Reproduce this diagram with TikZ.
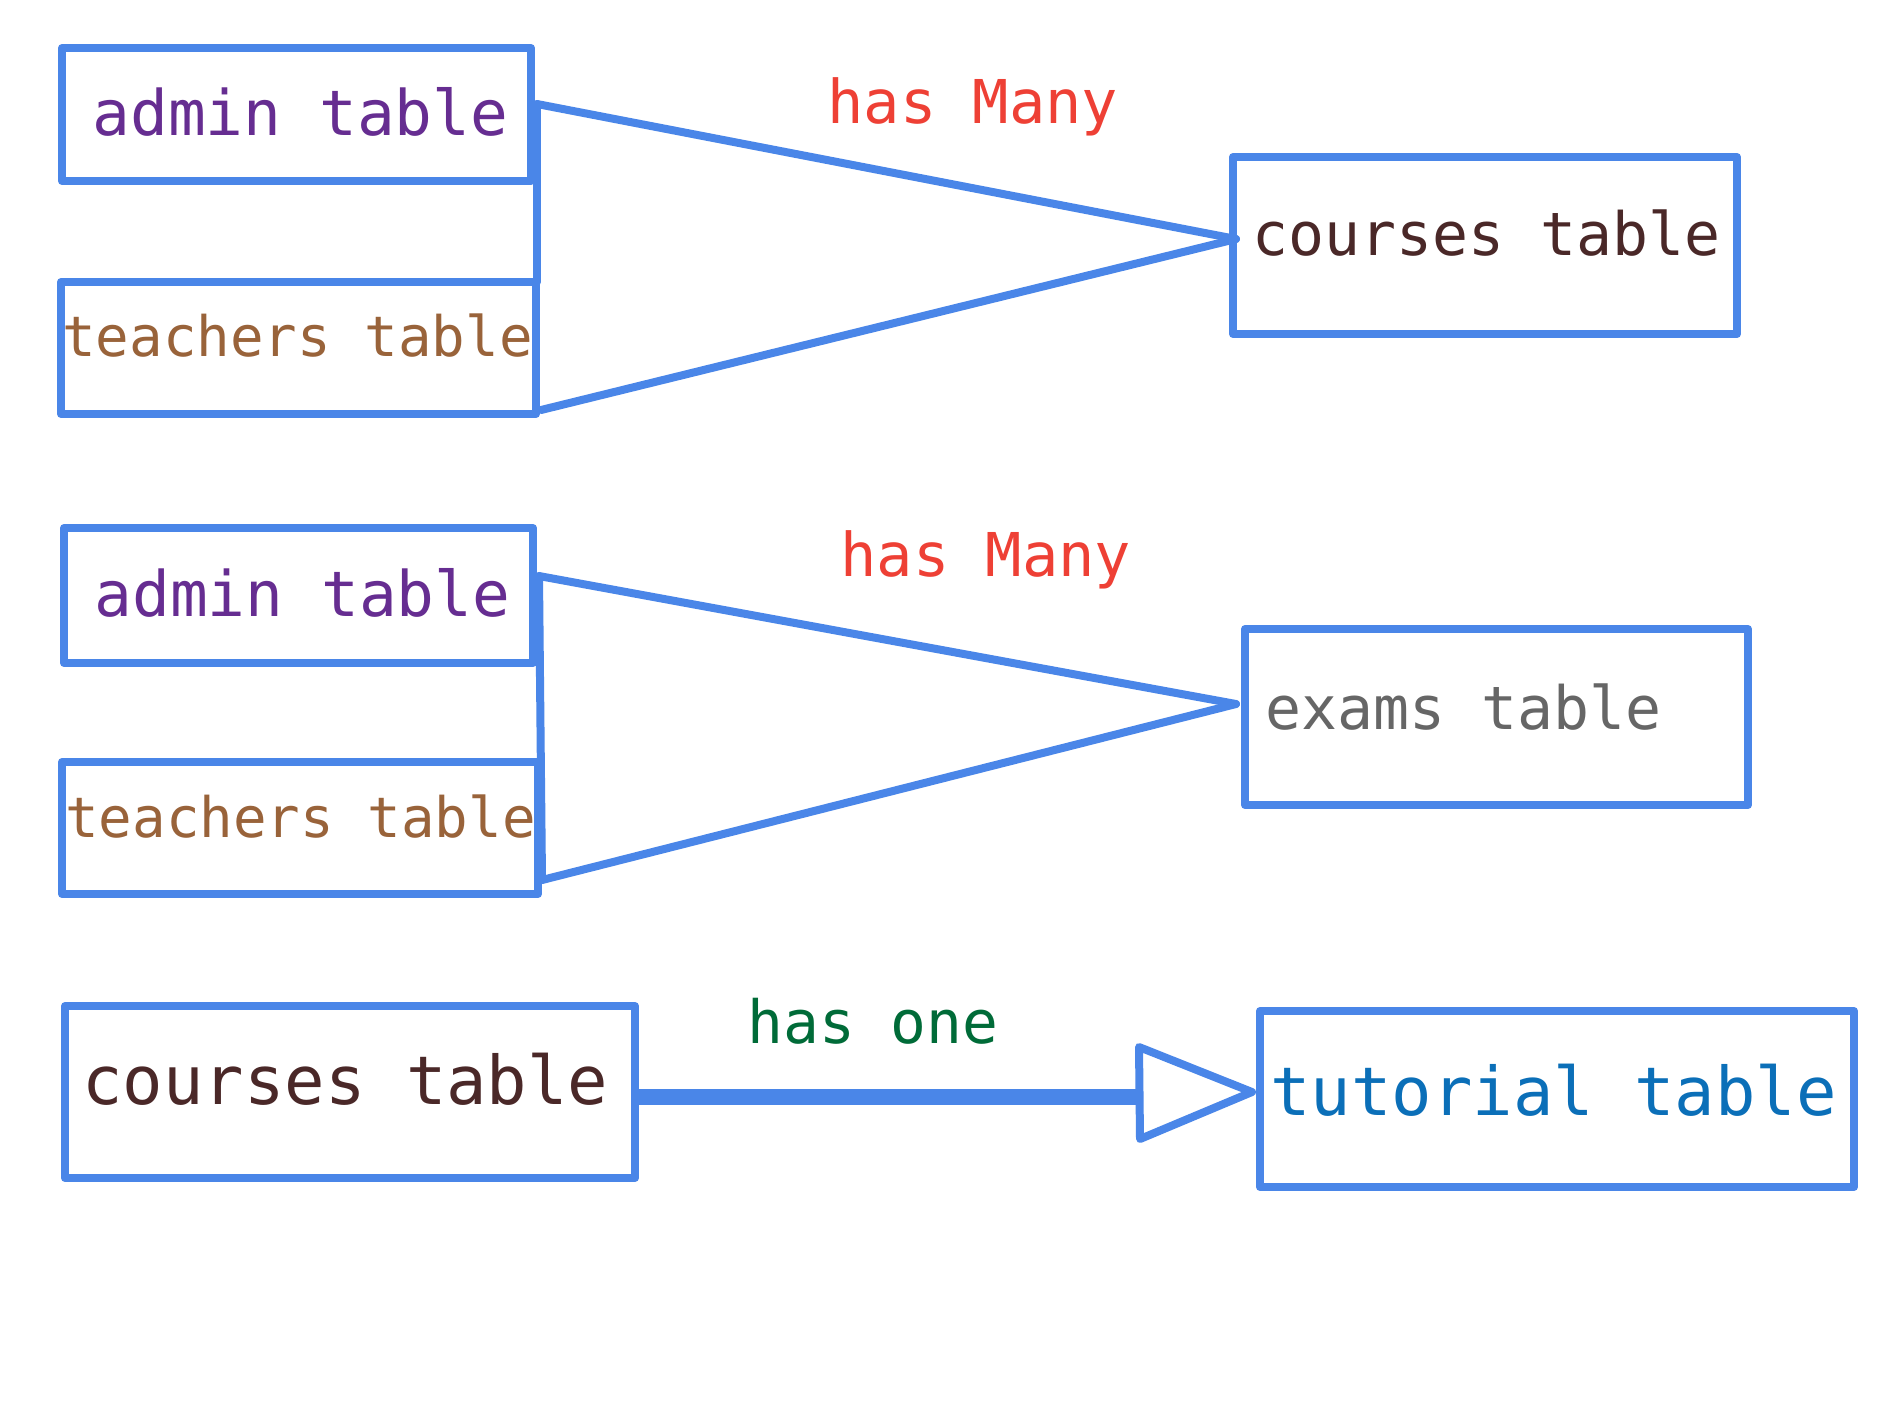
\documentclass[tikz,border=0pt]{standalone}
\usepackage{fontspec}
\newfontfamily\monofam{DejaVu Sans Mono}
\definecolor{lineblue}{RGB}{74,134,232}
\definecolor{adminc}{RGB}{102,45,145}
\definecolor{teachc}{RGB}{153,99,58}
\definecolor{coursec}{RGB}{74,40,40}
\definecolor{tutc}{RGB}{11,111,184}
\definecolor{greenc}{RGB}{0,107,56}
\definecolor{grayc}{RGB}{102,102,102}
\definecolor{redc}{RGB}{238,64,53}
\begin{document}
\begin{tikzpicture}[x=0.5pt,y=-0.5pt,
  box/.style={draw=lineblue,line width=4pt,line join=round,rectangle,inner sep=0pt,fill=none},
  conn/.style={draw=lineblue,line width=4pt,line cap=round,line join=round},
  shaft/.style={draw=lineblue,line width=8pt},
  lbl/.style={anchor=base west,inner sep=0pt,font=\monofam}]
\useasboundingbox[fill=white] (0,0) rectangle (1894,1421);
% boxes
\node[box,minimum width=234.5pt,minimum height=66.5pt] (a1) at (296.5,114.5) {};
\node[box,minimum width=237.5pt,minimum height=66pt] (t1) at (298.5,348) {};
\node[box,minimum width=252pt,minimum height=88.5pt] (c1) at (1485,245.5) {};
\node[box,minimum width=234.5pt,minimum height=67.5pt] (a2) at (298.5,595.5) {};
\node[box,minimum width=238pt,minimum height=66pt] (t2) at (300,828) {};
\node[box,minimum width=251.5pt,minimum height=88pt] (ex) at (1496.5,717) {};
\node[box,minimum width=285pt,minimum height=86pt] (c2) at (350,1092) {};
\node[box,minimum width=297pt,minimum height=88pt] (tu) at (1557,1099) {};
% texts
\node[lbl,text=adminc,font=\monofam\fontsize{31.4}{36}\selectfont] (ta1) at (92,135) {admin table};
\node[lbl,text=teachc,font=\monofam\fontsize{27.9}{32}\selectfont] (tt1) at (62,356) {teachers table};
\node[lbl,text=coursec,font=\monofam\fontsize{29.9}{34}\selectfont] (tc1) at (1252,255) {courses table};
\node[lbl,text=redc,font=\monofam\fontsize{30.2}{34}\selectfont] (hm1) at (827,123) {has Many};
\node[lbl,text=adminc,font=\monofam\fontsize{31.4}{36}\selectfont] (ta2) at (94,616) {admin table};
\node[lbl,text=teachc,font=\monofam\fontsize{27.9}{32}\selectfont] (tt2) at (65,837) {teachers table};
\node[lbl,text=redc,font=\monofam\fontsize{30.2}{34}\selectfont] (hm2) at (840,576) {has Many};
\node[lbl,text=grayc,font=\monofam\fontsize{29.9}{34}\selectfont] (te) at (1265,729) {exams table};
\node[lbl,text=coursec,font=\monofam\fontsize{33.6}{38}\selectfont] (tc2) at (82,1104) {courses table};
\node[lbl,text=greenc,font=\monofam\fontsize{29.8}{34}\selectfont] (ho) at (747,1043) {has one};
\node[lbl,text=tutc,font=\monofam\fontsize{33.6}{38}\selectfont] (ttu) at (1270,1115) {tutorial table};
% connector points
\coordinate (p1) at (537,104);
\coordinate (q1) at (537,282);
\coordinate (p2) at (541,410);
\coordinate (m1) at (1236,239);
\coordinate (p3) at (539,576);
\coordinate (q3) at (542,880);
\coordinate (m2) at (1236,704);
\coordinate (tb) at (1140,1097);
\coordinate (tt) at (1139,1047);
\coordinate (tbt) at (1140,1139);
\coordinate (tip) at (1252,1092);
% connectors
\draw[conn] (p1) -- (q1);
\draw[conn] (p1) -- (m1);
\draw[conn] (p2) -- (m1);
\draw[conn] (p3) -- (q3);
\draw[conn] (p3) -- (m2);
\draw[conn] (q3) -- (m2);
\draw[shaft] (c2.east |- tb) -- (tb);
\draw[conn,fill=white] (tt) -- (tip) -- (tbt) -- cycle;
\end{tikzpicture}
\end{document}
